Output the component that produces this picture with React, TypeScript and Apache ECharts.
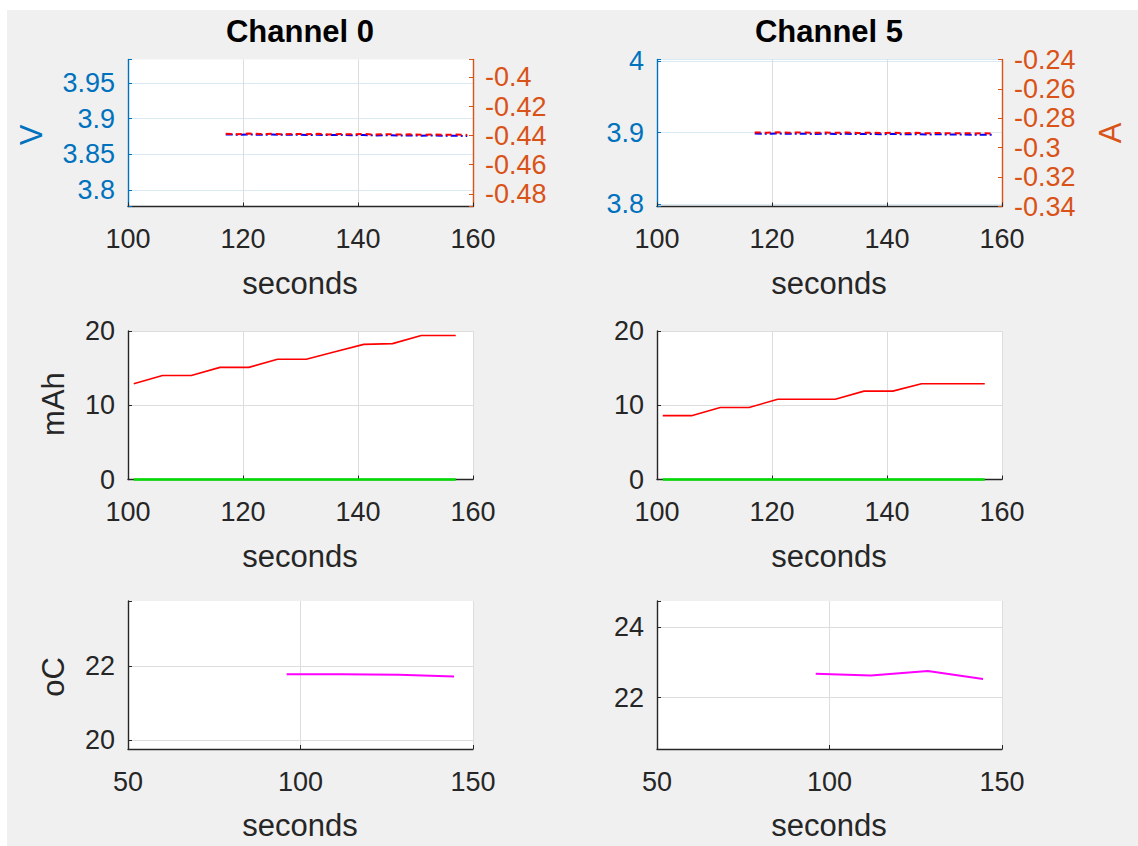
import React, { useEffect, useRef } from 'react';
import * as echarts from 'echarts';

// ---------- data ----------
const channelTitles = ['Channel 0', 'Channel 5'];

const timeTop0 = [117, 119, 121, 123, 125, 127, 129, 131, 133, 135, 137, 139, 141, 143, 145, 147, 149, 151, 153, 155, 157, 159];
const volts0 = [3.878, 3.8776, 3.8779, 3.8775, 3.8778, 3.8774, 3.8777, 3.8772, 3.8775, 3.8771, 3.8774, 3.8769, 3.8772, 3.8766, 3.8769, 3.8764, 3.8767, 3.8762, 3.8765, 3.876, 3.8762, 3.8758];
const amps0 = [-0.4387, -0.439, -0.4386, -0.4389, -0.4387, -0.4391, -0.4388, -0.439, -0.4388, -0.4392, -0.4389, -0.4391, -0.4389, -0.4393, -0.439, -0.4393, -0.4391, -0.4394, -0.4392, -0.4394, -0.4393, -0.4395];

const timeTop5 = [117, 119, 121, 123, 125, 127, 129, 131, 133, 135, 137, 139, 141, 143, 145, 147, 149, 151, 153, 155, 157, 158.6];
const volts5 = [3.8988, 3.8984, 3.8987, 3.8983, 3.8986, 3.8982, 3.8985, 3.8981, 3.8984, 3.898, 3.8982, 3.8978, 3.8981, 3.8977, 3.8979, 3.8975, 3.8977, 3.8973, 3.8975, 3.8971, 3.8972, 3.8968];
const amps5 = [-0.2896, -0.2898, -0.2895, -0.2898, -0.2896, -0.2899, -0.2897, -0.2899, -0.2897, -0.29, -0.2898, -0.29, -0.2898, -0.2901, -0.2899, -0.2902, -0.29, -0.2902, -0.2901, -0.2903, -0.2902, -0.2904];

const timeCap = [101, 106, 111, 116, 121, 126, 131, 136, 141, 146, 151, 157];
const capacity0 = [12.9, 14.0, 14.0, 15.1, 15.1, 16.2, 16.2, 17.2, 18.2, 18.3, 19.4, 19.4];
const capacity5 = [8.6, 8.6, 9.7, 9.7, 10.8, 10.8, 10.8, 11.9, 11.9, 12.9, 12.9, 12.9];
const charge0 = [0, 0, 0, 0, 0, 0, 0, 0, 0, 0, 0, 0];
const charge5 = [0, 0, 0, 0, 0, 0, 0, 0, 0, 0, 0, 0];

const timeTemp = [96, 112, 128.5, 144.5];
const temp0 = [21.78, 21.78, 21.77, 21.72];
const temp5 = [22.68, 22.63, 22.76, 22.53];

const xTicksTop = [100, 120, 140, 160];
const xTicksTemp = [50, 100, 150];

// axis ranges [min, max, tick step]
const rangeV0 = [3.777, 3.983, 0.05];
const rangeA0 = [-0.4887, -0.3877, 0.02];
const rangeV5 = [3.797, 4.002, 0.1];
const rangeA5 = [-0.34, -0.24, 0.02];
const rangeCap = [0, 20, 10];
const rangeT0 = [19.77, 23.75, 2];
const rangeT5 = [20.54, 24.75, 2];

// ---------- styling ----------
const FONT = 'Liberation Sans, Arial, Helvetica, sans-serif';
const BLUE = '#0072bd';
const ORANGE = '#d95319';
const DARK = '#262626';
const GRID_GRAY = '#dddddd';
const GRID_BLUE = '#d9eaf5';
const TICK_FS = 27;
const LABEL_FS = 31;
const TITLE_FS = 31;
const OX = 7;
const OY = 10;

const colLeft = [128 - OX, 657 - OX];
const colWidth = 345;
const rowTop = [59.5 - OY, 331 - OY, 601 - OY];
const rowHeight = [147, 148.5, 148];

const zip = (xs: number[], ys: number[]) => xs.map((x, i) => [x, ys[i]]);

const fmt = (step: number) => (v: number) => {
  const k = v / step;
  return Math.abs(k - Math.round(k)) < 1e-6 ? String(parseFloat(v.toFixed(4))) : '';
};

export default function App() {
  const ref = useRef<HTMLDivElement>(null);

  useEffect(() => {
    if (!ref.current) return;
    const chart = echarts.init(ref.current, undefined, { renderer: 'svg' });

    const grids: any[] = [];
    for (let r = 0; r < 3; r++) {
      for (let c = 0; c < 2; c++) {
        grids.push({
          left: colLeft[c],
          top: rowTop[r],
          width: colWidth,
          height: rowHeight[r],
          show: true,
          backgroundColor: '#ffffff',
          borderWidth: 0,
          containLabel: false,
          outerBoundsMode: 'none',
        });
      }
    }

    const xAxes = grids.map((_, i) => {
      const ticks = i < 4 ? xTicksTop : xTicksTemp;
      return {
        type: 'value',
        gridIndex: i,
        min: ticks[0],
        max: ticks[ticks.length - 1],
        interval: ticks[1] - ticks[0],
        axisLine: { show: true, onZero: false, lineStyle: { color: DARK, width: 1.4 } },
        axisTick: { show: true, inside: true, length: 4, lineStyle: { color: DARK } },
        axisLabel: { color: DARK, fontSize: TICK_FS, fontFamily: FONT, margin: 19 },
        splitLine: { show: true, lineStyle: { color: GRID_GRAY, width: 1 } },
      };
    });

    const yAxis = (
      gridIndex: number,
      range: number[],
      color: string,
      position: string,
      split: boolean,
      splitColor: string,
      splitNumber: number,
      showMaxLine: boolean
    ) => ({
      type: 'value',
      gridIndex,
      position,
      min: range[0],
      max: range[1],
      splitNumber,
      axisLine: { show: true, onZero: false, lineStyle: { color, width: 1.4 } },
      axisTick: { show: true, inside: true, length: 4, lineStyle: { color } },
      axisLabel: {
        color,
        fontSize: TICK_FS,
        fontFamily: FONT,
        margin: position === 'left' ? 13 : 12,
        formatter: fmt(range[2]),
        showMinLabel: true,
        showMaxLabel: true,
      },
      splitLine: { show: split, showMaxLine, lineStyle: { color: splitColor, width: 1 } },
    });

    const yAxes = [
      yAxis(0, rangeV0, BLUE, 'left', true, GRID_BLUE, 5, false),
      yAxis(0, rangeA0, ORANGE, 'right', false, GRID_BLUE, 5, false),
      yAxis(1, rangeV5, BLUE, 'left', true, GRID_BLUE, 2, true),
      yAxis(1, rangeA5, ORANGE, 'right', false, GRID_BLUE, 5, false),
      yAxis(2, rangeCap, DARK, 'left', true, GRID_GRAY, 2, true),
      yAxis(3, rangeCap, DARK, 'left', true, GRID_GRAY, 2, true),
      yAxis(4, rangeT0, DARK, 'left', true, GRID_GRAY, 2, false),
      yAxis(5, rangeT5, DARK, 'left', true, GRID_GRAY, 2, false),
    ];

    const line = (x: number, y: number, data: number[][], color: string, width: number, type: any, clip = true) => ({
      type: 'line',
      xAxisIndex: x,
      yAxisIndex: y,
      data,
      symbol: 'none',
      showSymbol: false,
      clip,
      color,
      lineStyle: { color, width, type },
      emphasis: { disabled: true },
    });

    const series = [
      line(0, 0, zip(timeTop0, volts0), '#0000ff', 2, [7, 3, 2, 3]),
      line(0, 1, zip(timeTop0, amps0), '#ff0000', 2, [6, 4]),
      line(1, 2, zip(timeTop5, volts5), '#0000ff', 2, [7, 3, 2, 3]),
      line(1, 3, zip(timeTop5, amps5), '#ff0000', 2, [6, 4]),
      line(2, 4, zip(timeCap, capacity0), '#ff0000', 1.6, 'solid'),
      line(2, 4, zip(timeCap, charge0), '#00dd00', 2.5, 'solid', false),
      line(3, 5, zip(timeCap, capacity5), '#ff0000', 1.6, 'solid'),
      line(3, 5, zip(timeCap, charge5), '#00dd00', 2.5, 'solid', false),
      line(4, 6, zip(timeTemp, temp0), '#ff00ff', 2, 'solid'),
      line(5, 7, zip(timeTemp, temp5), '#ff00ff', 2, 'solid'),
    ];

    const txt = (text: string, x: number, y: number, color: string, size: number, rotate = false, bold = false) => ({
      type: 'text',
      x,
      y,
      rotation: rotate ? Math.PI / 2 : 0,
      silent: true,
      style: {
        text,
        fill: color,
        fontSize: size,
        fontFamily: FONT,
        fontWeight: bold ? 'bold' : 'normal',
        align: 'center',
        verticalAlign: 'middle',
        textAlign: 'center',
        textVerticalAlign: 'middle',
      },
    });

    const colCenter = [300 - OX, 829 - OX];
    const secondsY = [283.3 - OY, 556.7 - OY, 825 - OY];
    const graphic: any[] = [
      txt(channelTitles[0], colCenter[0], 31.7 - OY, '#000000', TITLE_FS, false, true),
      txt(channelTitles[1], colCenter[1], 31.7 - OY, '#000000', TITLE_FS, false, true),
      txt('V', 31 - OX, 135 - OY, BLUE, LABEL_FS, true),
      txt('A', 1110 - OX, 133 - OY, ORANGE, LABEL_FS, true),
      txt('mAh', 53.5 - OX, 404 - OY, DARK, LABEL_FS, true),
      txt('oC', 53.5 - OX, 677 - OY, DARK, LABEL_FS, true),
    ];
    for (let r = 0; r < 3; r++) {
      for (let c = 0; c < 2; c++) {
        graphic.push(txt('seconds', colCenter[c], secondsY[r], DARK, LABEL_FS));
      }
    }

    chart.setOption({
      animation: false,
      backgroundColor: '#f0f0f0',
      textStyle: { fontFamily: FONT },
      grid: grids,
      xAxis: xAxes,
      yAxis: yAxes,
      series,
      graphic,
    });

    return () => chart.dispose();
  }, []);

  return (
    <div style={{ position: 'fixed', left: 0, top: 0, width: 1138, height: 846, background: '#ffffff' }}>
      <div ref={ref} style={{ position: 'absolute', left: OX, top: OY, width: 1138 - OX, height: 846 - OY }} />
    </div>
  );
}
